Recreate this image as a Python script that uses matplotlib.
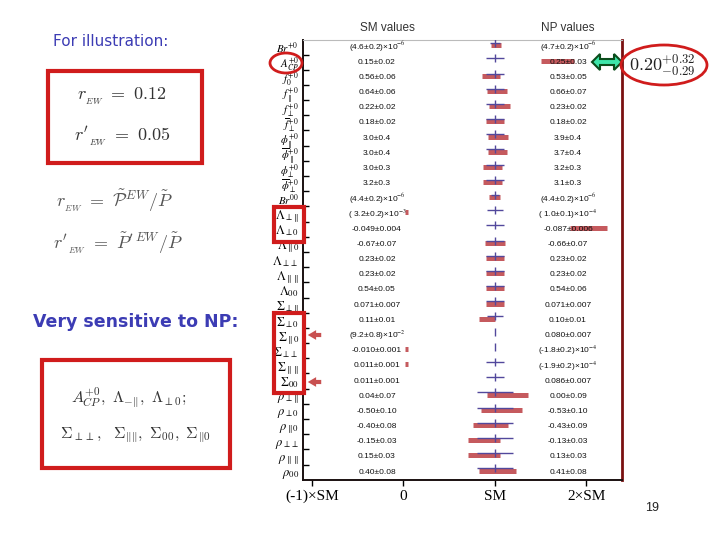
import matplotlib
matplotlib.use("Agg")
import matplotlib.pyplot as plt
import numpy as np
from matplotlib.patches import Rectangle, Ellipse, FancyArrowPatch, Polygon
from matplotlib.transforms import blended_transform_factory

plt.rcParams['mathtext.fontset'] = 'stix'

# ---------------- data ----------------
labels = [r'$Br^{+0}$', r'$A_{CP}^{+0}$', r'$f_{0}^{+0}$', r'$f_{\parallel}^{+0}$',
          r'$f_{\perp}^{+0}$', r'$\overline{f}_{\perp}^{+0}$', r'$\phi_{\parallel}^{+0}$',
          r'$\overline{\phi}_{\parallel}^{+0}$', r'$\phi_{\perp}^{+0}$', r'$\overline{\phi}_{\perp}^{+0}$',
          r'$Br^{00}$', r'$\Lambda_{\perp\parallel}$', r'$\Lambda_{\perp0}$', r'$\Lambda_{\parallel0}$',
          r'$\Lambda_{\perp\perp}$', r'$\Lambda_{\parallel\parallel}$', r'$\Lambda_{00}$',
          r'$\Sigma_{\perp\parallel}$', r'$\Sigma_{\perp0}$', r'$\Sigma_{\parallel0}$',
          r'$\Sigma_{\perp\perp}$', r'$\Sigma_{\parallel\parallel}$', r'$\Sigma_{00}$',
          r'$\rho_{\perp\parallel}$', r'$\rho_{\perp0}$', r'$\rho_{\parallel0}$',
          r'$\rho_{\perp\perp}$', r'$\rho_{\parallel\parallel}$', r'$\rho_{00}$']

sm_text = ['(4.6±0.2)×10$^{-6}$', '0.15±0.02', '0.56±0.06', '0.64±0.06', '0.22±0.02',
           '0.18±0.02', '3.0±0.4', '3.0±0.4', '3.0±0.3', '3.2±0.3', '(4.4±0.2)×10$^{-6}$',
           '( 3.2±0.2)×10$^{-3}$', '-0.049±0.004', '-0.67±0.07', '0.23±0.02', '0.23±0.02',
           '0.54±0.05', '0.071±0.007', '0.11±0.01', '(9.2±0.8)×10$^{-2}$', '-0.010±0.001',
           '0.011±0.001', '0.011±0.001', '0.04±0.07', '-0.50±0.10', '-0.40±0.08',
           '-0.15±0.03', '0.15±0.03', '0.40±0.08']
np_text = ['(4.7±0.2)×10$^{-6}$', '0.25±0.03', '0.53±0.05', '0.66±0.07', '0.23±0.02',
           '0.18±0.02', '3.9±0.4', '3.7±0.4', '3.2±0.3', '3.1±0.3', '(4.4±0.2)×10$^{-6}$',
           '( 1.0±0.1)×10$^{-4}$', '-0.087±0.006', '-0.66±0.07', '0.23±0.02', '0.23±0.02',
           '0.54±0.06', '0.071±0.007', '0.10±0.01', '0.080±0.007', '(-1.8±0.2)×10$^{-4}$',
           '(-1.9±0.2)×10$^{-4}$', '0.086±0.007', '0.00±0.09', '-0.53±0.10', '-0.43±0.09',
           '-0.13±0.03', '0.13±0.03', '0.41±0.08']

# relative (to SM) positions
sm_err = [0.05, 0.10, 0.10, 0.10, 0.10, 0.10, 0.10, 0.10, 0.10, 0.10, 0.045, 0.09, 0.10, 0.10,
          0.10, 0.10, 0.10, 0.10, 0.09, 0.0, 0.0, 0.10, 0.10, 0.20, 0.20, 0.20, 0.20, 0.20, 0.20]
np_pos = [1.01, 1.68, 0.96, 1.02, 1.05, 1.00, 1.03, 1.03, 0.97, 0.97, 1.00, 0.03, 2.02, 1.00,
          1.00, 1.00, 1.00, 1.00, 0.91, np.nan, 0.03, 0.03, np.nan, 1.14, 1.07, 0.95, 0.88, 0.88, 1.03]
np_err = [0.055, 0.18, 0.10, 0.11, 0.115, 0.10, 0.11, 0.105, 0.105, 0.105, 0.06, 0.015, 0.20, 0.105,
          0.10, 0.10, 0.10, 0.10, 0.09, np.nan, 0.015, 0.015, np.nan, 0.225, 0.22, 0.19, 0.18, 0.18, 0.20]

xtick_vals = [-1, 0, 1, 2]
xtick_labels = ['(-1)×SM', '0', 'SM', '2×SM']

# ---------------- figure ----------------
W, H = 720, 540
def fx(x): return x / W
def fy(y): return 1 - y / H

fig = plt.figure(figsize=(7.2, 5.4), dpi=100)
ax = fig.add_axes([fx(303), fy(480), (622 - 303) / W, (480 - 40) / H])

rows = np.arange(len(labels))
sm_err = np.array(sm_err); np_pos = np.array(np_pos); np_err = np.array(np_err)

RED = '#c55a5e'
BLUE = '#52489c'

ax.hlines(rows - 0.1, np_pos - np_err, np_pos + np_err, color=RED, lw=3.6, zorder=2)
ax.hlines(rows - 0.25, 1 - sm_err, 1 + sm_err, color=BLUE, lw=1.0, zorder=3)
ax.plot(np.ones(len(rows)), rows - 0.25, ls='none', marker='|', ms=6, mew=1.0, color=BLUE, zorder=3)

ax.set_xlim(-1.098, 2.388)
ax.set_ylim(len(rows) - 0.48, -0.46)

ax.set_yticks(rows)
ax.set_yticklabels(labels, fontsize=9)
for k, t in enumerate(ax.get_yticklabels()):
    if k <= 10:
        t.set_fontsize(7.8)
ax.set_yticks(rows[:-1] + 0.5, minor=True)
ax.tick_params(axis='y', which='major', length=0, pad=3)
ax.tick_params(axis='y', which='minor', length=4, width=1, direction='in')
ax.set_xticks(xtick_vals)
ax.set_xticklabels(xtick_labels, fontsize=11, family='Liberation Serif')
ax.tick_params(axis='x', which='major', length=4, width=1, direction='out', pad=3)

for s in ['left', 'bottom']:
    ax.spines[s].set_linewidth(1.4)
    ax.spines[s].set_color('#1a1010')
ax.spines['right'].set_color('#7a1010')
ax.spines['right'].set_linewidth(2)
ax.spines['top'].set_color('#bbbbbb')
ax.spines['top'].set_linewidth(0.8)

tr = blended_transform_factory(fig.transFigure, ax.transData)
for i in rows:
    ax.text(fx(377), i, sm_text[i], transform=tr, ha='center', va='center',
            fontsize=6, family='Liberation Sans', color='#111111')
    ax.text(fx(568), i, np_text[i], transform=tr, ha='center', va='center',
            fontsize=6, family='Liberation Sans', color='#111111')

fig.text(fx(387), fy(28), 'SM values', ha='center', va='center', fontsize=8.5,
         family='Liberation Sans', color='#333333')
fig.text(fx(568), fy(28), 'NP values', ha='center', va='center', fontsize=8.5,
         family='Liberation Sans', color='#333333')

# ---------------- annotations ----------------
BOXRED = '#d01c1c'
def rect(x0, y0, x1, y1, lw=3):
    fig.add_artist(Rectangle((fx(x0), fy(y1)), (x1 - x0) / W, (y1 - y0) / H,
                             transform=fig.transFigure, fill=False, ec=BOXRED, lw=lw))

TBLUE = '#3c3cb4'
fig.text(fx(111), fy(42), 'For illustration:', ha='center', va='center', fontsize=11,
         color=TBLUE, family='DejaVu Sans')
rect(48, 71, 202, 163)
fig.text(fx(122), fy(96), r'$r_{_{EW}}\ =\ 0.12$', ha='center', va='center', fontsize=13,
         math_fontfamily='cm', color='#333333')
fig.text(fx(122), fy(137), r"$r'_{_{EW}}\ =\ 0.05$", ha='center', va='center', fontsize=13,
         math_fontfamily='cm', color='#333333')
fig.text(fx(114), fy(201), r'$r_{_{EW}}\ =\ \tilde{\mathcal{P}}^{EW}/\tilde{P}$', ha='center',
         va='center', fontsize=13, math_fontfamily='cm', color='#555555')
fig.text(fx(118), fy(243), r"$r'_{_{EW}}\ =\ \tilde{P}^{\prime\ EW}/\tilde{P}$", ha='center',
         va='center', fontsize=13, math_fontfamily='cm', color='#555555')

fig.text(fx(136), fy(322), 'Very sensitive to NP:', ha='center', va='center', fontsize=12.5,
         color=TBLUE, family='DejaVu Sans', weight='bold')
rect(42, 360, 230, 468)
fig.text(fx(129), fy(397), r'$A^{+0}_{CP},\ \Lambda_{-\|},\ \Lambda_{\perp 0};$', ha='center',
         va='center', fontsize=11.5, math_fontfamily='cm', color='#333333')
fig.text(fx(135), fy(435), r'$\Sigma_{\perp\perp},\ \ \Sigma_{\|\|},\ \Sigma_{00},\ \Sigma_{\|0}$',
         ha='center', va='center', fontsize=11.5, math_fontfamily='cm', color='#333333')

# boxes / ellipses on the axis labels
rect(274, 207, 304, 242)
rect(274, 313, 304, 393)
fig.add_artist(Ellipse((fx(286), fy(63)), 32 / W, 20 / H, transform=fig.transFigure,
                       fill=False, ec=BOXRED, lw=2))

for yy in (335, 382):
    fig.add_artist(FancyArrowPatch((fx(324), fy(yy)), (fx(305), fy(yy)),
                                   transform=fig.transFigure,
                                   arrowstyle='simple,head_length=0.6,head_width=0.7,tail_width=0.3',
                                   mutation_scale=10, color='#c85050', lw=0))

# green double arrow
xs = [592, 600, 600, 614, 614, 622, 614, 614, 600, 600]
ys = [62, 54, 59, 59, 54, 62, 70, 65, 65, 70]
fig.add_artist(Polygon([(fx(a), fy(b)) for a, b in zip(xs, ys)], closed=True,
                       transform=fig.transFigure, fc='#3ee6aa', ec='#0b4d1c', lw=1.5))

fig.add_artist(Ellipse((fx(664), fy(65)), 86 / W, 40 / H, transform=fig.transFigure,
                       fill=False, ec=BOXRED, lw=2))
fig.text(fx(662), fy(65), r'$0.20^{+0.32}_{-0.29}$', ha='center', va='center', fontsize=13,
         math_fontfamily='cm', color='#222222')

fig.text(fx(652), fy(508), '19', ha='center', va='center', fontsize=9,
         family='Liberation Sans', color='#222222')

fig.savefig('out.png', dpi=100)
